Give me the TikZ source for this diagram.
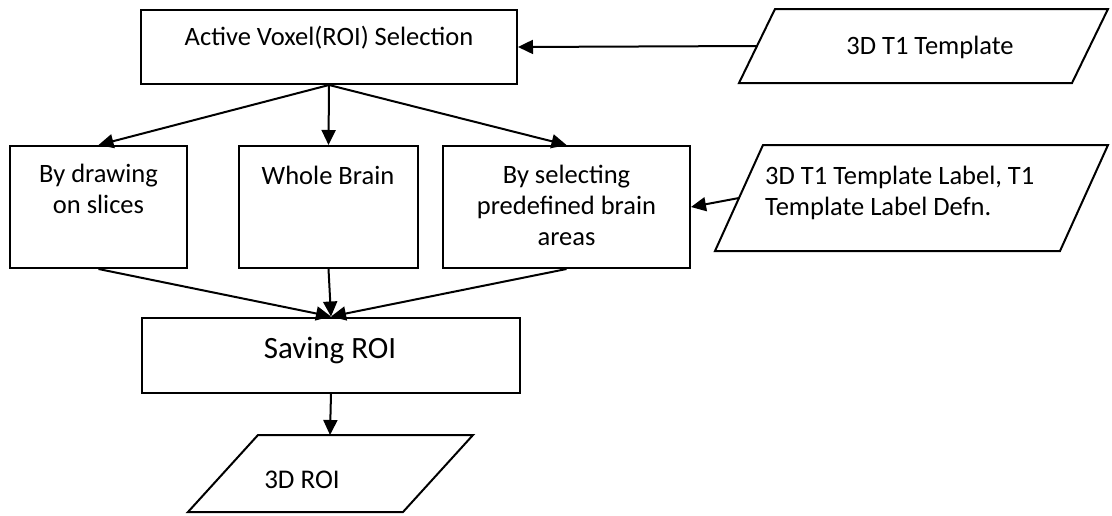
\documentclass[tikz,border=0pt]{standalone}
\usepackage{fontspec}
\setmainfont{Carlito}
\usetikzlibrary{arrows.meta}

\begin{document}
\begin{tikzpicture}[x=1pt,y=-1pt,
		box/.style={draw,line width=2pt,inner sep=0pt},
		io/.style={draw,line width=2pt,line join=miter},
		txt/.style={font=\fontsize{26.5}{31}\selectfont,align=center,inner sep=0pt},
		link/.style={line width=2pt,-{Triangle[length=15pt,width=14pt]}}]
			\useasboundingbox (0,0) rectangle (1112,515);
			
			\coordinate (tmplin) at (757,46);
			\coordinate (lblin) at (739,198);
			\coordinate (roiin) at (330,435);
			
			\node[box,minimum width=376pt,minimum height=74pt] (sel) at (329,47) {};
			\node[box,minimum width=177pt,minimum height=122pt] (draw) at (98.5,207) {};
			\node[box,minimum width=179pt,minimum height=122pt] (whole) at (328.5,207) {};
			\node[box,minimum width=247pt,minimum height=122pt] (pick) at (566.5,207) {};
			\node[box,minimum width=378pt,minimum height=75pt] (save) at (331,355) {};
			
			\draw[io] (739,83) -- (775,9) -- (1108,9) -- (1072,83) -- cycle;
			\draw[io] (715,251) -- (763,145) -- (1108,145) -- (1060,251) -- cycle;
			\draw[io] (188,512) -- (258,435) -- (473,435) -- (403,512) -- cycle;
			
			\node[txt] (seltext) at (329,38) {Active Voxel(ROI) Selection};
			\node[txt] (tmpltext) at (930,47) {3D T1 Template};
			\node[txt] (drawtext) at (98.5,189) {By drawing\\on slices};
			\node[txt] (wholetext) at (328,175) {Whole Brain};
			\node[txt] (picktext) at (566.5,205) {By selecting\\predefined brain\\areas};
			\node[txt,align=left,anchor=west] (lbltext) at (765,192.5) {3D T1 Template Label, T1\\Template Label Defn.};
			\node[txt,font=\fontsize{31}{37}\selectfont] (savetext) at (330,350) {Saving ROI};
			\node[txt,font=\fontsize{27}{32}\selectfont] (roitext) at (302,480) {3D ROI};
			
			\draw[link] (tmplin) -- (sel.east);
			\draw[link] (sel.south) -- (draw.north);
			\draw[link] (sel.south) -- (whole.north);
			\draw[link] (sel.south) -- (pick.north);
			\draw[link] (lblin) -- (pick.east);
			\draw[link] (draw.south) -- (save.north);
			\draw[link] (whole.south) -- (save.north);
			\draw[link] (pick.south) -- (save.north);
			\draw[link] (save.south) -- (roiin);
		\end{tikzpicture}
\end{document}
